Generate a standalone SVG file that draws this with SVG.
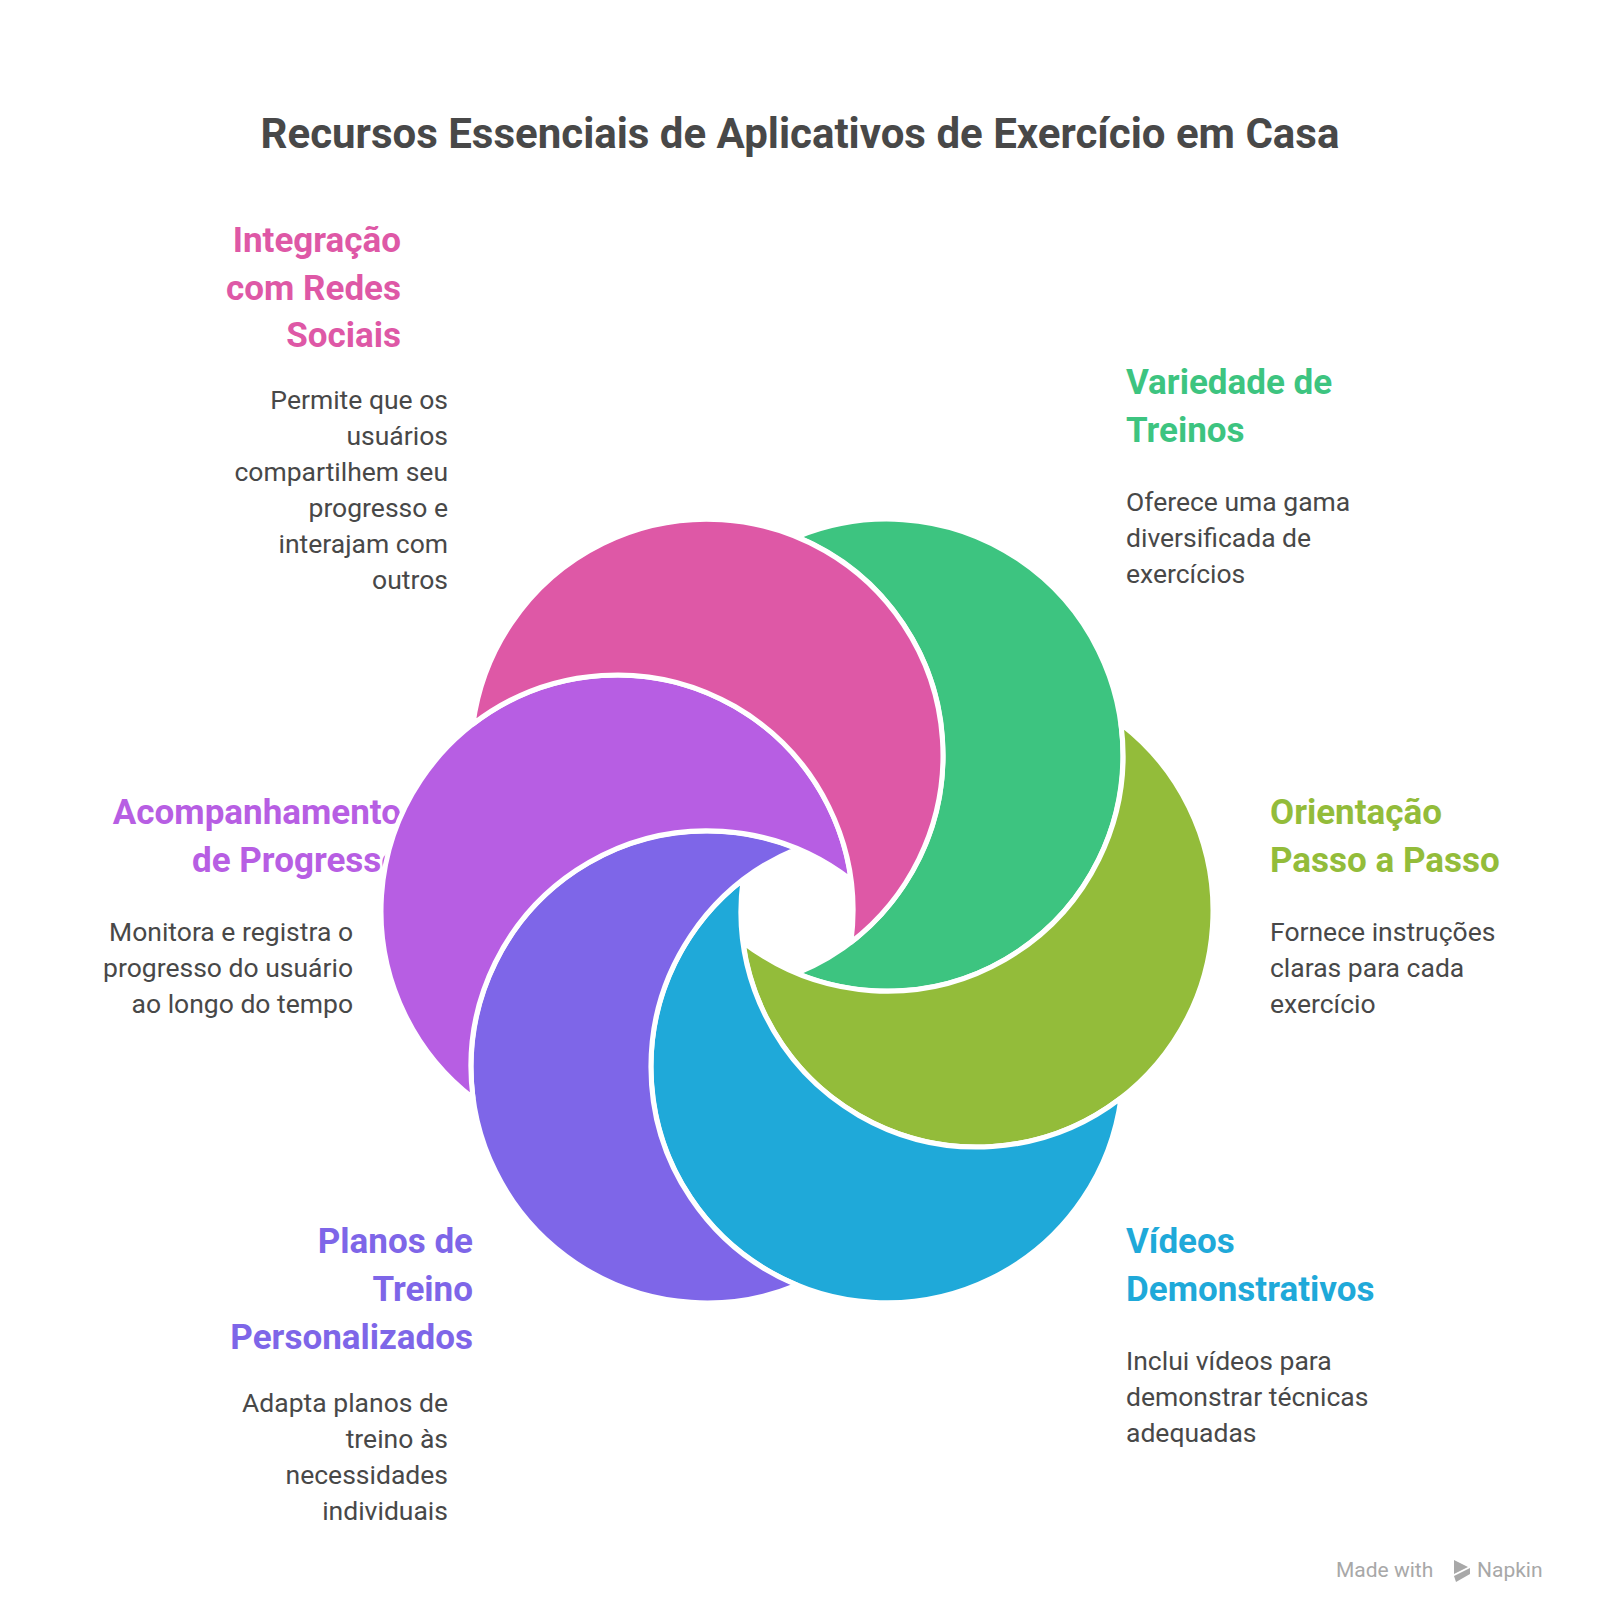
<svg xmlns="http://www.w3.org/2000/svg" width="1600" height="1624" viewBox="0 0 1600 1624">
<style>
text{font-family:Roboto,"Liberation Sans",sans-serif}
.t{font-size:35px;font-weight:700}
.d{font-size:26.5px;fill:#484848}
.r{text-anchor:end}
.s{stroke:#fff;stroke-width:5;stroke-linejoin:round}
</style>
<defs>
<path id="cr" d="M797 536.9A236 236 0 1 1 797 973.3A236 236 0 0 0 797 536.9Z"/>
</defs>
<rect width="1600" height="1624" fill="#fff"/>
<text x="800" y="148" text-anchor="middle" font-size="42" font-weight="700" fill="#484848">Recursos Essenciais de Aplicativos de Exercício em Casa</text>
<g id="label-pink">
<text class="t r" fill="#DE58A6"><tspan x="401" y="252">Integração</tspan><tspan x="401" y="300">com Redes</tspan><tspan x="401" y="347">Sociais</tspan></text>
<text class="d r"><tspan x="448" y="409">Permite que os</tspan><tspan x="448" y="445">usuários</tspan><tspan x="448" y="481">compartilhem seu</tspan><tspan x="448" y="517">progresso e</tspan><tspan x="448" y="553">interajam com</tspan><tspan x="448" y="589">outros</tspan></text>
</g>
<g id="label-green">
<text class="t" fill="#3DC480"><tspan x="1126" y="394">Variedade de</tspan><tspan x="1126" y="442">Treinos</tspan></text>
<text class="d"><tspan x="1126" y="511">Oferece uma gama</tspan><tspan x="1126" y="547">diversificada de</tspan><tspan x="1126" y="583">exercícios</tspan></text>
</g>
<g id="label-olive">
<text class="t" fill="#93BC3A"><tspan x="1270" y="824">Orientação</tspan><tspan x="1270" y="872">Passo a Passo</tspan></text>
<text class="d"><tspan x="1270" y="941">Fornece instruções</tspan><tspan x="1270" y="977">claras para cada</tspan><tspan x="1270" y="1013">exercício</tspan></text>
</g>
<g id="label-blue">
<text class="t" fill="#1FA9D9"><tspan x="1126" y="1253">Vídeos</tspan><tspan x="1126" y="1301">Demonstrativos</tspan></text>
<text class="d"><tspan x="1126" y="1370">Inclui vídeos para</tspan><tspan x="1126" y="1406">demonstrar técnicas</tspan><tspan x="1126" y="1442">adequadas</tspan></text>
</g>
<g id="label-purple">
<text class="t r" fill="#7E66E8"><tspan x="473" y="1253">Planos de</tspan><tspan x="473" y="1301">Treino</tspan><tspan x="473" y="1349">Personalizados</tspan></text>
<text class="d r"><tspan x="448" y="1412">Adapta planos de</tspan><tspan x="448" y="1448">treino às</tspan><tspan x="448" y="1484">necessidades</tspan><tspan x="448" y="1520">individuais</tspan></text>
</g>
<g id="label-violet">
<text class="t r" fill="#B75EE3"><tspan x="401" y="824">Acompanhamento</tspan><tspan x="401" y="872">de Progresso</tspan></text>
<text class="d r"><tspan x="353" y="941">Monitora e registra o</tspan><tspan x="353" y="977">progresso do usuário</tspan><tspan x="353" y="1013">ao longo do tempo</tspan></text>
</g>
<g id="shape-green"><use href="#cr" class="s" fill="#3DC480"/></g>
<g id="shape-olive"><use href="#cr" class="s" fill="#93BC3A" transform="rotate(60 797 911)"/></g>
<g id="shape-blue"><use href="#cr" class="s" fill="#1FA9D9" transform="rotate(120 797 911)"/></g>
<g id="shape-purple"><use href="#cr" class="s" fill="#7E66E8" transform="rotate(180 797 911)"/></g>
<g id="shape-violet"><use href="#cr" class="s" fill="#B75EE3" transform="rotate(240 797 911)"/></g>
<g id="shape-pink"><use href="#cr" class="s" fill="#DE58A6" transform="rotate(300 797 911)"/></g>
<g id="connectors"/>
<g id="watermark" fill="#A8A8A8">
<text x="1336" y="1577" font-size="21">Made with</text>
<polygon points="1454,1560 1468,1567 1454,1574"/>
<polygon points="1454,1576 1470,1568 1470,1574 1456,1582"/>
<text x="1477" y="1577" font-size="21">Napkin</text>
</g>
</svg>
